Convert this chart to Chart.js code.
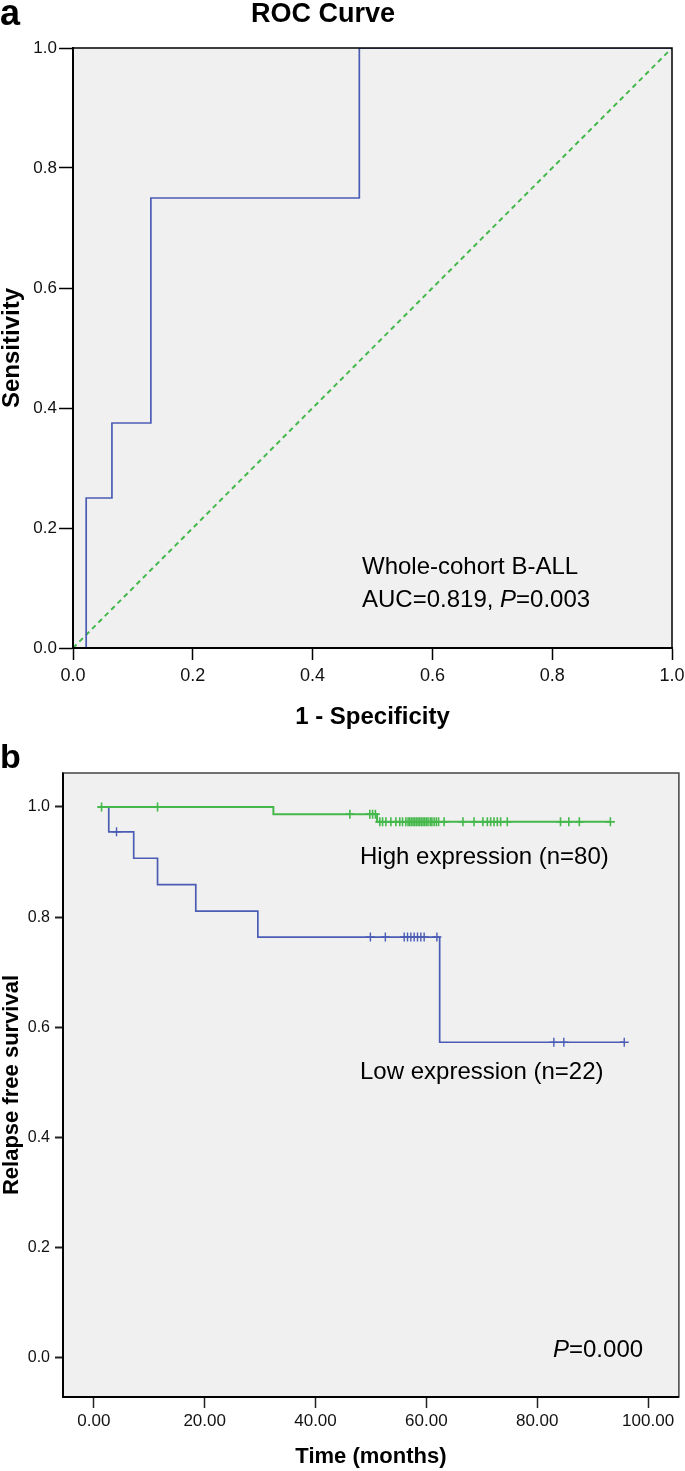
<!DOCTYPE html>
<html>

<head>
    <meta charset="utf-8">
    <title>ROC and relapse free survival</title>
    <script src="https://cdn.jsdelivr.net/npm/chart.js"></script>
    <style>
        body { margin: 0; background: #fff; }
        canvas { position: absolute; left: 0; }
    </style>
</head>

<body>
    <canvas id="rocChart" width="685" height="740" style="top: 0;"></canvas>
    <canvas id="kmChart" width="685" height="731" style="top: 740px;"></canvas>
    <script>
    // ---- panel a: ROC ----
    const rocFpr = [0, 0.022, 0.065, 0.13, 0.478, 1];
    const rocTpr = [0, 0.25, 0.375, 0.75, 1, 1];
    const refLine = [0, 1];
    const rocTicks = [0, 0.2, 0.4, 0.6, 0.8, 1.0];

    // ---- panel b: Kaplan-Meier ----
    const highTimes = [0.8, 32.4, 51.1, 93.2];
    const highSurv = [1.0, 0.987, 0.973, 0.973];
    const highCensor = [1.4, 11.5, 46.2, 49.8, 50.3, 50.8, 51.6, 52.1, 52.7, 53.6, 54.5, 55.2, 55.7,
        56.3, 56.7, 57.0, 57.3, 57.6, 57.9, 58.2, 58.5, 58.8, 59.1, 59.4, 59.7, 60.0, 60.3, 60.7,
        61.0, 61.4, 61.8, 62.2, 63.2, 66.6, 68.6, 70.2, 71.0, 71.6, 72.2, 72.8, 73.4, 74.6,
        84.2, 85.7, 87.6, 93.2];
    const lowTimes = [0.8, 2.7, 7.2, 11.5, 18.4, 29.6, 62.4, 95.7];
    const lowSurv = [1.0, 0.955, 0.907, 0.859, 0.811, 0.764, 0.573, 0.573];
    const lowCensor = [4.1, 49.9, 52.6, 56.0, 56.6, 57.2, 57.8, 58.4, 59.0, 59.6, 61.9, 83.0, 84.8, 95.7];
    const timeTicks = [0, 20, 40, 60, 80, 100];
    const survTicks = [0, 0.2, 0.4, 0.6, 0.8, 1.0];

    const FONT = "'Liberation Sans', Arial, sans-serif";
    const BLUE = '#4b5cb5';
    const GREEN = '#45b84b';
    const BG = '#f0f0f0';

    function survAt(times, surv, t) {
        let s = surv[0];
        for (let i = 0; i < times.length; i++) {
            if (times[i] <= t) s = surv[i];
        }
        return s;
    }

    function fixedTicks(list) {
        return s => { s.ticks = list.map(v => ({ value: v })); };
    }

    // 灰底 + 外框
    function framePlugin(id, color) {
        return {
            id: id,
            beforeDraw(chart) {
                const a = chart.chartArea, ctx = chart.ctx;
                ctx.save();
                ctx.fillStyle = BG;
                ctx.fillRect(a.left, a.top, a.right - a.left, a.bottom - a.top);
                ctx.restore();
            },
            afterDatasetsDraw(chart) {
                const a = chart.chartArea, ctx = chart.ctx;
                ctx.save();
                ctx.strokeStyle = color;
                ctx.lineWidth = 1.5;
                ctx.strokeRect(a.left, a.top, a.right - a.left, a.bottom - a.top);
                ctx.strokeStyle = '#000';
                ctx.lineWidth = 2;
                ctx.beginPath();
                ctx.moveTo(a.left, a.top);
                ctx.lineTo(a.left, a.bottom);
                ctx.lineTo(a.right, a.bottom);
                ctx.stroke();
                ctx.restore();
            }
        };
    }

    function text(ctx, str, x, y, font, align) {
        ctx.font = font;
        ctx.textAlign = align || 'left';
        ctx.textBaseline = 'middle';
        ctx.fillText(str, x, y);
        return ctx.measureText(str).width;
    }

    // P in italics
    function pText(ctx, before, after, x, y, size) {
        let w = 0;
        if (before) w += text(ctx, before, x, y, size + 'px ' + FONT);
        w += text(ctx, 'P', x + w, y, 'italic ' + size + 'px ' + FONT);
        text(ctx, after, x + w, y, size + 'px ' + FONT);
    }

    const rocText = {
        id: 'rocText',
        afterDraw(chart) {
            const ctx = chart.ctx;
            ctx.save();
            ctx.fillStyle = '#000';
            ctx.font = 'bold 36px ' + FONT;
            ctx.textAlign = 'left';
            ctx.textBaseline = 'alphabetic';
            ctx.fillText('a', 0, 25);
            text(ctx, 'ROC Curve', 323, 15, 'bold 27px ' + FONT, 'center');
            text(ctx, 'Whole-cohort B-ALL', 362, 567, '24px ' + FONT);
            pText(ctx, 'AUC=0.819, ', '=0.003', 362, 600, 24);
            ctx.restore();
        }
    };

    const kmText = {
        id: 'kmText',
        afterDraw(chart) {
            const ctx = chart.ctx;
            ctx.save();
            ctx.fillStyle = '#000';
            ctx.font = 'bold 34px ' + FONT;
            ctx.textAlign = 'left';
            ctx.textBaseline = 'alphabetic';
            ctx.fillText('b', 0, 28);
            text(ctx, 'High expression (n=80)', 360, 117, '24px ' + FONT);
            text(ctx, 'Low expression (n=22)', 360, 332, '24px ' + FONT);
            pText(ctx, '', '=0.000', 553, 610, 24);
            ctx.restore();
        }
    };

    new Chart(document.getElementById('rocChart'), {
        type: 'line',
        data: {
            datasets: [{
                data: rocFpr.map((x, i) => ({ x: x, y: rocTpr[i] })),
                borderColor: BLUE,
                borderWidth: 1.7,
                stepped: 'before',
                pointRadius: 0
            }, {
                data: refLine.map(v => ({ x: v, y: v })),
                borderColor: GREEN,
                borderWidth: 2,
                borderDash: [5, 4],
                pointRadius: 0
            }]
        },
        options: {
            responsive: false,
            animation: false,
            layout: { padding: { left: 0, right: 13, top: 48, bottom: 0 } },
            plugins: { legend: { display: false }, tooltip: { enabled: false } },
            scales: {
                x: {
                    type: 'linear', min: 0, max: 1,
                    afterBuildTicks: fixedTicks(rocTicks),
                    afterFit: s => { s.height = 92; s.paddingLeft = 0; s.paddingRight = 0; },
                    grid: { drawOnChartArea: false, tickLength: 12, tickWidth: 1.5, tickColor: '#000' },
                    border: { color: '#000', width: 2 },
                    ticks: { color: '#111', padding: 5, maxRotation: 0, font: { family: FONT, size: 18 },
                        callback: v => v.toFixed(1) },
                    title: { display: true, text: '1 - Specificity', color: '#000',
                        font: { family: FONT, size: 24, weight: 'bold' }, padding: { top: 0, bottom: 8.6 } }
                },
                y: {
                    type: 'linear', min: 0, max: 1,
                    afterBuildTicks: fixedTicks(rocTicks),
                    afterFit: s => { s.width = 73; s.paddingTop = 0; s.paddingBottom = 0; },
                    grid: { drawOnChartArea: false, tickLength: 14, tickWidth: 1.5, tickColor: '#000' },
                    border: { color: '#000', width: 2 },
                    ticks: { color: '#111', padding: 2, font: { family: FONT, size: 17 },
                        callback: v => v.toFixed(1) },
                    title: { display: true, text: 'Sensitivity', color: '#000',
                        font: { family: FONT, size: 24, weight: 'bold', lineHeight: 1 }, padding: { top: 0, bottom: 0 } }
                }
            }
        },
        plugins: [framePlugin('rocFrame', '#000'), rocText]
    });

    new Chart(document.getElementById('kmChart'), {
        type: 'line',
        data: {
            datasets: [{
                label: 'High expression',
                data: highTimes.map((t, i) => ({ x: t, y: highSurv[i] })),
                borderColor: GREEN,
                borderWidth: 2,
                stepped: 'before',
                pointRadius: 0
            }, {
                label: 'High censored',
                data: highCensor.map(t => ({ x: t, y: survAt(highTimes, highSurv, t) })),
                showLine: false,
                pointStyle: 'cross',
                pointRadius: 4.5,
                borderColor: GREEN,
                pointBorderWidth: 1.6
            }, {
                label: 'Low expression',
                data: lowTimes.map((t, i) => ({ x: t, y: lowSurv[i] })),
                borderColor: BLUE,
                borderWidth: 1.7,
                stepped: 'before',
                pointRadius: 0
            }, {
                label: 'Low censored',
                data: lowCensor.map(t => ({ x: t, y: survAt(lowTimes, lowSurv, t) })),
                showLine: false,
                pointStyle: 'cross',
                pointRadius: 4.5,
                borderColor: BLUE,
                pointBorderWidth: 1.4
            }]
        },
        options: {
            responsive: false,
            animation: false,
            layout: { padding: { left: 0, right: 2, top: 33, bottom: 0 } },
            plugins: { legend: { display: false }, tooltip: { enabled: false } },
            scales: {
                x: {
                    type: 'linear', min: -5.556, max: 105.56,
                    afterBuildTicks: fixedTicks(timeTicks),
                    afterFit: s => { s.height = 74; s.paddingLeft = 0; s.paddingRight = 0; },
                    grid: { drawOnChartArea: false, tickLength: 11, tickWidth: 1.5, tickColor: '#222' },
                    border: { color: '#333', width: 1.5 },
                    ticks: { color: '#111', padding: 3, maxRotation: 0, font: { family: FONT, size: 17 },
                        callback: v => v.toFixed(2) },
                    title: { display: true, text: 'Time (months)', color: '#000',
                        font: { family: FONT, size: 22, weight: 'bold' }, padding: { top: 0, bottom: 1 } }
                },
                y: {
                    type: 'linear', min: -0.0708, max: 1.0617,
                    afterBuildTicks: fixedTicks(survTicks),
                    afterFit: s => { s.width = 63; s.paddingTop = 0; s.paddingBottom = 0; },
                    grid: { drawOnChartArea: false, tickLength: 8, tickWidth: 2, tickColor: '#222' },
                    border: { color: '#222', width: 1.5 },
                    ticks: { color: '#111', padding: 5, font: { family: FONT, size: 16 },
                        callback: v => v.toFixed(1) },
                    title: { display: true, text: 'Relapse free survival', color: '#000',
                        font: { family: FONT, size: 22, weight: 'bold', lineHeight: 1 }, padding: { top: 1, bottom: 0 } }
                }
            }
        },
        plugins: [framePlugin('kmFrame', '#444'), kmText]
    });
    </script>
</body>

</html>
